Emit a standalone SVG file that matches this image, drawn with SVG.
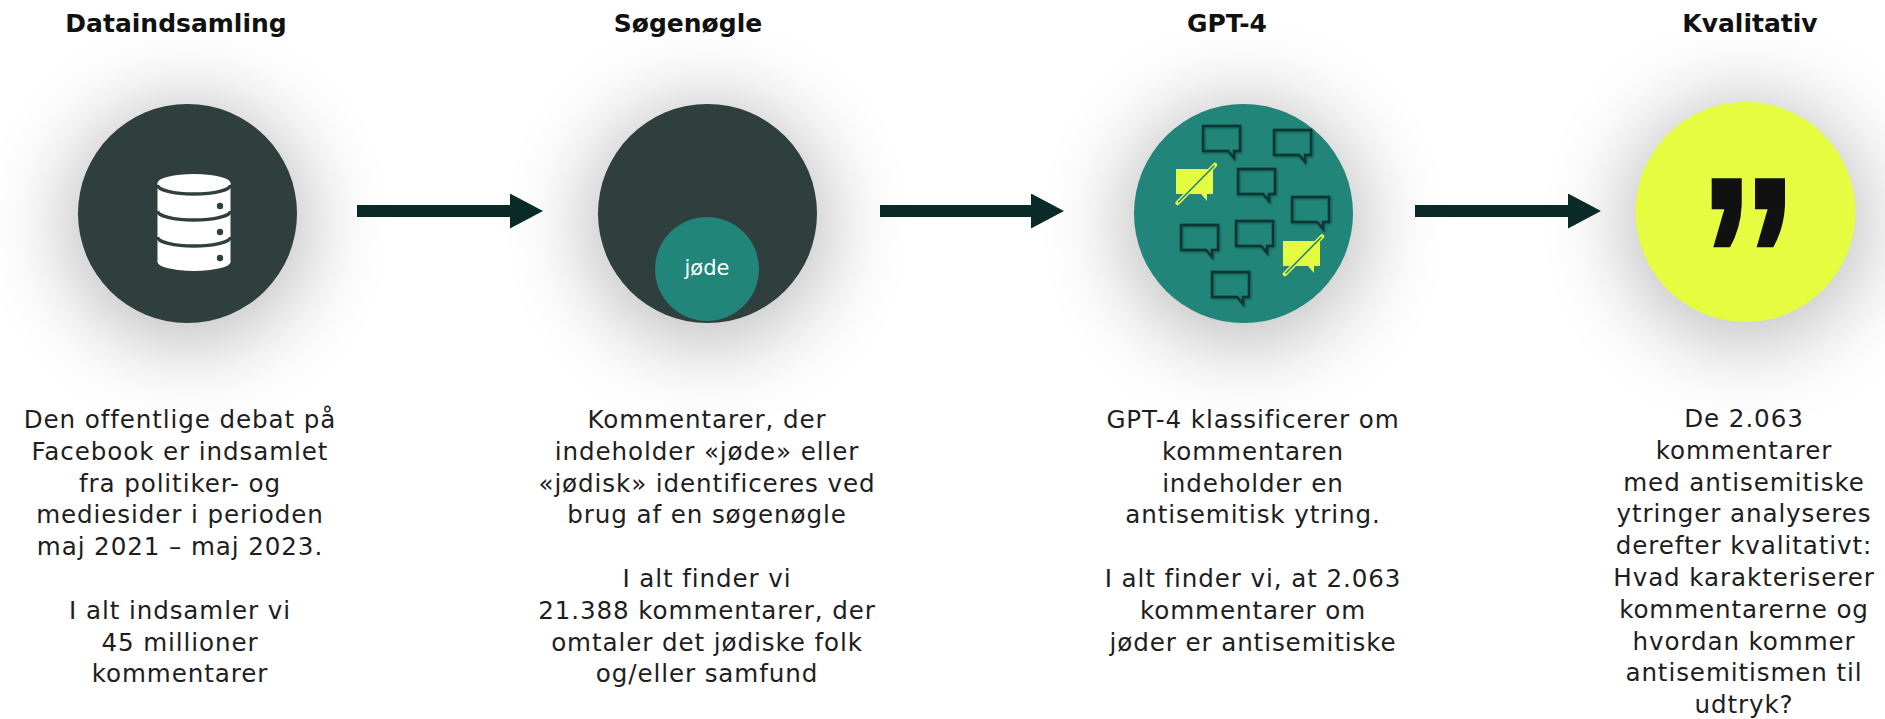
<svg xmlns="http://www.w3.org/2000/svg" xmlns:xlink="http://www.w3.org/1999/xlink" width="1885" height="719" viewBox="0 0 1885 719">
<style>
.title{font-family:"DejaVu Sans","Liberation Sans",sans-serif;font-weight:700;font-size:25px;fill:#111;text-anchor:middle}
.body{font-family:"DejaVu Sans","Liberation Sans",sans-serif;font-size:24.6px;letter-spacing:0.9px;fill:#1e1e1e;text-anchor:middle}
.dark{fill:#2f3f3e}
.teal{fill:#21857a}
.bubble{fill:none;stroke:#0f3632;stroke-width:2.4;stroke-linejoin:miter}
.ybubble{fill:#e5fb40}
.conn{stroke:#0a2a27;stroke-width:12;fill:none}
</style>
<defs>
<filter id="halo" x="-100%" y="-100%" width="300%" height="300%">
<feGaussianBlur stdDeviation="42"/>
</filter>
<filter id="soft" x="-20%" y="-20%" width="140%" height="160%">
<feGaussianBlur in="SourceAlpha" stdDeviation="1"/>
<feOffset dx="0.5" dy="1" result="s"/>
<feFlood flood-color="#0a2a27" flood-opacity="0.5"/>
<feComposite in2="s" operator="in" result="sh"/>
<feMerge><feMergeNode in="sh"/><feMergeNode in="SourceGraphic"/></feMerge>
</filter>
<marker id="head" markerUnits="userSpaceOnUse" markerWidth="34" markerHeight="36" refX="0" refY="17.5" orient="auto">
<path d="M0,0 L33,17.5 L0,35 Z" fill="#0a2a27"/>
</marker>
<path id="bub" d="M0,0 H37 V25 H31 V32 L25,25 H0 Z"/>
<path id="qm" d="M0,0 H30 V27 Q29,50 18.3,69 H1.6 L12.6,31 H0 Z"/>
</defs>
<rect width="1885" height="719" fill="#ffffff"/>
<g id="halos" fill="#000" opacity="0.26" filter="url(#halo)">
<circle cx="187.5" cy="224" r="122"/>
<circle cx="707.5" cy="224" r="122"/>
<circle cx="1243.5" cy="224" r="122"/>
<circle cx="1745.5" cy="222" r="122"/>
</g>
<g id="connectors">
<path class="conn" d="M357,211 H510" marker-end="url(#head)"/>
<path class="conn" d="M880,211 H1031" marker-end="url(#head)"/>
<path class="conn" d="M1415,211 H1568" marker-end="url(#head)"/>
</g>
<g id="node-dataindsamling">
<text class="title" x="176" y="32">Dataindsamling</text>
<circle class="dark" cx="187.5" cy="213.5" r="109.5"/>
<g id="db-icon">
<rect x="157.5" y="183" width="73" height="79" fill="#fff"/>
<ellipse cx="194" cy="262" rx="36.5" ry="9" fill="#fff"/>
<ellipse cx="194" cy="183" rx="36.5" ry="9" fill="#fff"/>
<g fill="none" stroke="#2f3f3e" stroke-width="3.5">
<path d="M157.5,185 A36.5,9 0 0 0 230.5,185"/>
<path d="M157.5,211 A36.5,9 0 0 0 230.5,211"/>
<path d="M157.5,237 A36.5,9 0 0 0 230.5,237"/>
</g>
<g fill="#2f3f3e">
<circle cx="220" cy="206" r="3.2"/>
<circle cx="220" cy="232" r="3.2"/>
<circle cx="220" cy="258" r="3.2"/>
</g>
</g>
<text class="body" x="180" y="428"><tspan x="180">Den offentlige debat på</tspan><tspan x="180" dy="31.8">Facebook er indsamlet</tspan><tspan x="180" dy="31.8">fra politiker- og</tspan><tspan x="180" dy="31.8">mediesider i perioden</tspan><tspan x="180" dy="31.8">maj 2021 – maj 2023.</tspan><tspan x="180" dy="63.6">I alt indsamler vi</tspan><tspan x="180" dy="31.8">45 millioner</tspan><tspan x="180" dy="31.8">kommentarer</tspan></text>
</g>
<g id="node-soegenoegle">
<text class="title" x="688" y="32">Søgenøgle</text>
<circle class="dark" cx="707.5" cy="213.5" r="109.5"/>
<circle class="teal" cx="707" cy="269" r="52"/>
<text x="707" y="275" font-family="DejaVu Sans, sans-serif" font-size="21" fill="#fff" text-anchor="middle">jøde</text>
<text class="body" x="707" y="428"><tspan x="707">Kommentarer, der</tspan><tspan x="707" dy="31.8">indeholder «jøde» eller</tspan><tspan x="707" dy="31.8">«jødisk» identificeres ved</tspan><tspan x="707" dy="31.8">brug af en søgenøgle</tspan><tspan x="707" dy="63.6">I alt finder vi</tspan><tspan x="707" dy="31.8">21.388 kommentarer, der</tspan><tspan x="707" dy="31.8">omtaler det jødiske folk</tspan><tspan x="707" dy="31.8">og/eller samfund</tspan></text>
</g>
<g id="node-gpt4">
<text class="title" x="1227" y="32">GPT-4</text>
<circle class="teal" cx="1243.5" cy="213.5" r="109.5"/>
<g filter="url(#soft)">
<use href="#bub" class="bubble" x="1203" y="126"/>
<use href="#bub" class="bubble" x="1274" y="130"/>
<use href="#bub" class="bubble" x="1238" y="169"/>
<use href="#bub" class="bubble" x="1292" y="197"/>
<use href="#bub" class="bubble" x="1181" y="225"/>
<use href="#bub" class="bubble" x="1236" y="221"/>
<use href="#bub" class="bubble" x="1212" y="272"/>
</g>
<use href="#bub" class="ybubble" x="1176" y="169"/>
<use href="#bub" class="ybubble" x="1283" y="241"/>
<g stroke-linecap="round">
<path d="M1177.5,203 L1215,165" stroke="#e5fb40" stroke-width="4.5"/>
<path d="M1178.5,202 L1214,166" stroke="#21857a" stroke-width="1.6"/>
<path d="M1285,274 L1322,236.5" stroke="#e5fb40" stroke-width="4.5"/>
<path d="M1286,273 L1321,237.5" stroke="#21857a" stroke-width="1.6"/>
</g>
<text class="body" x="1253" y="428"><tspan x="1253">GPT-4 klassificerer om</tspan><tspan x="1253" dy="31.8">kommentaren</tspan><tspan x="1253" dy="31.8">indeholder en</tspan><tspan x="1253" dy="31.8">antisemitisk ytring.</tspan><tspan x="1253" dy="63.6">I alt finder vi, at 2.063</tspan><tspan x="1253" dy="31.8">kommentarer om</tspan><tspan x="1253" dy="31.8">jøder er antisemitiske</tspan></text>
</g>
<g id="node-kvalitativ">
<text class="title" x="1750" y="32">Kvalitativ</text>
<circle cx="1745.5" cy="212" r="110" fill="#e6fc40"/>
<use href="#qm" x="1711.7" y="178.3" fill="#111"/>
<use href="#qm" x="1755" y="178.3" fill="#111"/>
<text class="body" x="1744" y="427"><tspan x="1744">De 2.063</tspan><tspan x="1744" dy="31.8">kommentarer</tspan><tspan x="1744" dy="31.8">med antisemitiske</tspan><tspan x="1744" dy="31.8">ytringer analyseres</tspan><tspan x="1744" dy="31.8">derefter kvalitativt:</tspan><tspan x="1744" dy="31.8">Hvad karakteriserer</tspan><tspan x="1744" dy="31.8">kommentarerne og</tspan><tspan x="1744" dy="31.8">hvordan kommer</tspan><tspan x="1744" dy="31.8">antisemitismen til</tspan><tspan x="1744" dy="31.8">udtryk?</tspan></text>
</g>
</svg>
